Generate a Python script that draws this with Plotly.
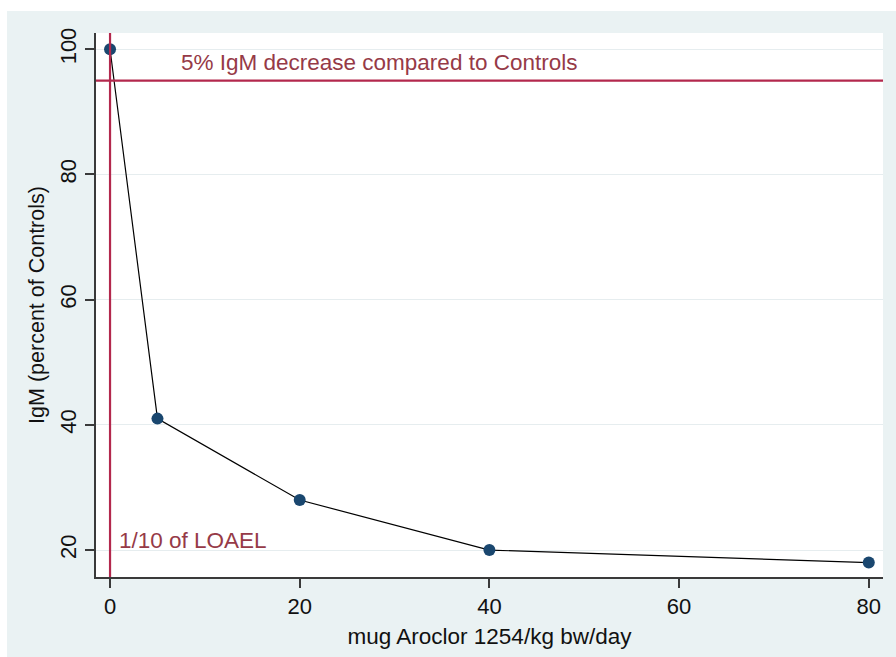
import plotly.graph_objects as go

# Data
dose = [0, 5, 20, 40, 80]
igm_pct = [100, 41, 28, 20, 18]
x_ticks = [0, 20, 40, 60, 80]
y_ticks = [20, 40, 60, 80, 100]
ref_igm = 95          # 5% decrease line
ref_dose = 0          # 1/10 of LOAEL line
ref_igm_label = "5% IgM decrease compared to Controls"
ref_dose_label = "1/10 of LOAEL"

W, H = 896, 657
ML, MR, MT, MB = 96, 13, 33, 80
pw, ph = W - ML - MR, H - MT - MB

BG = "#EAF2F3"
LINE_RED = "#B3284D"
TEXT_RED = "#963A47"
NAVY = "#1A476F"
AX = "#3A3A3A"
FONT = "Liberation Sans, Arial, sans-serif"

fig = go.Figure()

fig.add_trace(go.Scatter(
    x=dose, y=igm_pct, mode="lines+markers",
    line=dict(color="black", width=1.2),
    marker=dict(color=NAVY, size=12),
    showlegend=False, cliponaxis=False,
))

shapes = [
    # outer light background (white margin at top/left)
    dict(type="rect", xref="paper", yref="paper", layer="below",
         x0=(7 - ML) / pw, x1=(W + 5 - ML) / pw,
         y0=(MT + ph - (H + 5)) / ph, y1=(MT + ph - 11) / ph,
         fillcolor=BG, line=dict(width=0)),
    # white plot area
    dict(type="rect", xref="paper", yref="paper", layer="below",
         x0=0, x1=1, y0=0, y1=1, fillcolor="white", line=dict(width=0)),
    # reference lines
    dict(type="line", xref="paper", yref="y", x0=0, x1=1, y0=ref_igm, y1=ref_igm,
         line=dict(color=LINE_RED, width=2.2)),
    dict(type="line", xref="x", yref="paper", x0=ref_dose, x1=ref_dose, y0=0, y1=1,
         line=dict(color=LINE_RED, width=2.2)),
]

annotations = [
    dict(x=7.3, y=97.9, xref="x", yref="y", text=ref_igm_label, showarrow=False,
         xanchor="left", yanchor="middle", font=dict(family=FONT, size=22.5, color=TEXT_RED)),
    dict(x=0.75, y=21.6, xref="x", yref="y", text=ref_dose_label, showarrow=False,
         xanchor="left", yanchor="middle", font=dict(family=FONT, size=22.5, color=TEXT_RED)),
]

fig.update_layout(
    width=W, height=H,
    margin=dict(l=ML, r=MR, t=MT, b=MB, autoexpand=False),
    paper_bgcolor="white", plot_bgcolor="rgba(0,0,0,0)",
    font=dict(family=FONT, color="#111111"),
    shapes=shapes, annotations=annotations,
    xaxis=dict(
        range=[-1.48, 81.5], tickvals=x_ticks, ticks="outside", ticklen=9,
        tickcolor=AX, tickwidth=1.5, showline=True, linecolor=AX, linewidth=1.5,
        showgrid=False, zeroline=False, tickfont=dict(size=22),
        title=dict(text="mug Aroclor 1254/kg bw/day", font=dict(size=22.5), standoff=10),
        automargin=False,
    ),
    yaxis=dict(
        range=[15.7, 102.6], tickvals=y_ticks, ticks="outside", ticklen=9,
        tickcolor=AX, tickwidth=1.5, showline=True, linecolor=AX, linewidth=1.5,
        showgrid=True, gridcolor="#E6EDEF", gridwidth=1, zeroline=False,
        tickangle=-90, tickfont=dict(size=22),
        title=dict(text="IgM (percent of Controls)", font=dict(size=21.5), standoff=6),
        automargin=False,
    ),
)

fig.write_html("out.html", config={"displayModeBar": False},
               post_script="document.body.style.margin='0';document.body.style.padding='0';")
